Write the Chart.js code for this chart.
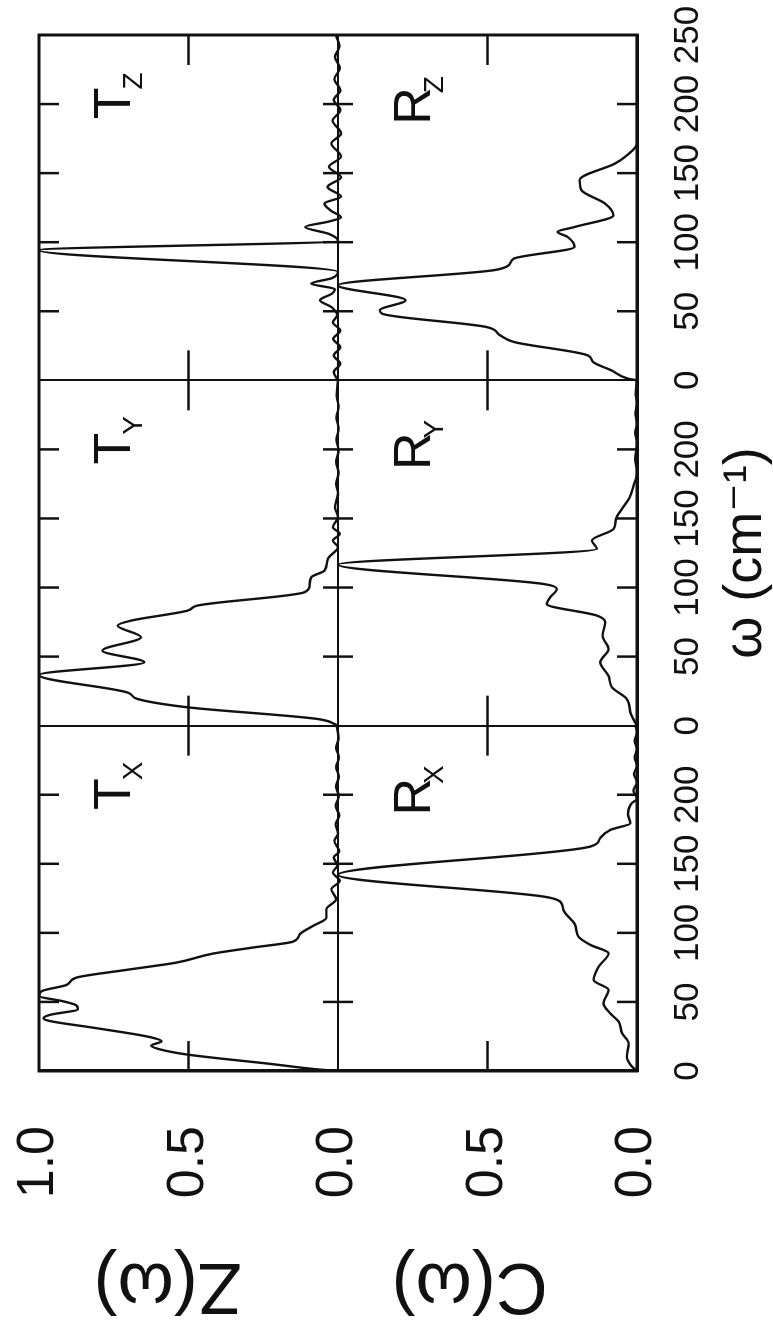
<!DOCTYPE html>
<html>
<head>
<meta charset="utf-8">
<title>Z(ω) and C(ω) spectra</title>
<script src="https://cdn.jsdelivr.net/npm/chart.js@4.4.0/dist/chart.umd.min.js"></script>
<style>
  html, body { margin: 0; padding: 0; background: #fff; overflow: hidden; }
  #page { position: relative; width: 773px; height: 1331px; overflow: hidden; background: #fff; }
  /* the figure is drawn landscape and turned a quarter turn, like the scanned page */
  #wrap { position: absolute; left: 0; top: 0; width: 1331px; height: 773px;
          transform-origin: 0 0; transform: translateY(1331px) rotate(-90deg); }
</style>
</head>
<body>
<div id="page">
  <div id="wrap"><canvas id="spectra" width="1331" height="773"></canvas></div>
</div>
<script>
// frequencies (cm-1) and normalised spectra, one panel per axis
const txW = [0, 1.2, 5, 12, 15.7, 18.4, 21.5, 24.6, 31.4, 36.2, 38.2, 40.6, 44.7, 47.5, 50.5, 54.3, 57.9, 62.3, 67.6, 73.2, 78.5, 85, 89.4, 93.7, 99, 105, 111, 117, 124.4, 131.6, 137.7, 143.7, 149, 154.6, 159, 166.6, 172, 178.7, 185, 192, 199, 206, 213, 220, 227, 234, 241, 250];
const txZ = [0, 0.07, 0.22, 0.507, 0.596, 0.625, 0.59, 0.63, 0.82, 0.964, 0.985, 0.964, 0.87, 0.875, 0.92, 1.0, 0.99, 0.908, 0.875, 0.708, 0.54, 0.418, 0.284, 0.15, 0.128, 0.084, 0.039, 0.039, 0.006, 0.022, -0.006, 0.017, 0.002, 0.014, -0.004, 0.012, 0, 0.008, -0.004, 0.008, -0.003, 0.007, -0.003, 0.006, -0.003, 0.006, -0.002, 0.004];

const tyW = [0, 4.8, 13.3, 19.3, 24, 36.7, 45.9, 54.3, 64, 72.5, 76, 83.3, 87, 96.6, 101.4, 107.5, 112.3, 120.8, 129.2, 134, 138.9, 143.7, 151, 158, 168, 175, 183, 191, 199, 207, 215, 223, 231, 239, 250];
const tyZ = [0, 0.067, 0.503, 0.67, 0.704, 1.0, 0.648, 0.788, 0.659, 0.737, 0.693, 0.503, 0.469, 0.112, 0.095, 0.089, 0.045, 0.034, 0, 0.017, -0.006, 0.017, 0, 0.01, 0, 0.006, -0.002, 0.006, -0.002, 0.005, -0.002, 0.005, -0.002, 0.004, 0];

const tzW = [0, 6, 12, 18, 24, 30, 36, 42, 47, 53, 58, 62.8, 66, 70, 74, 78.5, 94.2, 101, 106, 111, 115, 118, 123, 128, 133, 140, 147, 154.6, 162, 171.5, 178.7, 188, 195.6, 203, 210, 218, 226, 234, 242, 250];
const tzZ = [0, 0.014, -0.008, 0.014, -0.008, 0.016, -0.008, 0.017, 0.003, 0.022, 0.06, 0.02, 0.01, 0.09, 0.02, 0, 1.0, 0, 0.03, 0.11, 0.03, -0.01, 0.025, 0.045, -0.01, 0.035, -0.01, 0.03, -0.01, 0.022, -0.01, 0.018, -0.008, 0.014, -0.008, 0.012, -0.006, 0.01, -0.005, 0.008];

const rxW = [0, 4, 10.4, 20, 27.3, 35.7, 41.8, 49, 58.7, 65.9, 75.6, 85.2, 91.3, 97.3, 105.8, 116.6, 122.7, 126.3, 142, 162.5, 168.6, 174.6, 179.4, 186, 194, 197, 203, 209, 215, 221, 227, 233, 239, 245, 250];
const rxC = [0, 0.02, 0.034, 0.028, 0.05, 0.061, 0.09, 0.112, 0.095, 0.145, 0.128, 0.095, 0.156, 0.196, 0.207, 0.246, 0.257, 0.313, 1.0, 0.156, 0.123, 0.089, 0.022, 0.03, 0.017, 0, 0.012, 0, 0.01, 0, 0.008, 0, 0.008, 0, 0.005];

const ryW = [0, 8, 19.3, 27.8, 36, 45.9, 55.5, 65, 74.9, 79.7, 88.1, 93, 99, 102.6, 116.6, 128, 134, 142.5, 150, 157, 165, 174, 183.5, 193, 205, 212, 219, 226, 233, 240, 250];
const ryC = [0, 0.02, 0.034, 0.084, 0.095, 0.123, 0.095, 0.115, 0.106, 0.134, 0.302, 0.29, 0.268, 0.313, 1.0, 0.134, 0.151, 0.078, 0.07, 0.05, 0.025, 0.011, 0, 0.006, 0, 0.006, 0, 0.005, 0, 0.004, 0];

const rzW = [0, 1.2, 7.2, 13.3, 18, 27.8, 32.6, 38.6, 48.3, 50.7, 58, 68.8, 79.7, 83.3, 88.1, 96.6, 103.8, 107.5, 111, 119.5, 128, 137.7, 145, 157, 161.8, 171.5, 180, 250];
const rzC = [0, 0.03, 0.085, 0.147, 0.164, 0.412, 0.458, 0.503, 0.853, 0.86, 0.774, 1.0, 0.48, 0.429, 0.412, 0.209, 0.232, 0.266, 0.209, 0.079, 0.107, 0.186, 0.192, 0.073, 0.04, 0, 0, 0];

const axisNames = ['X', 'Y', 'Z'];
const panelSpan = 250;           // each panel runs 0..250 cm-1
const omegaTicks = [0, 50, 100, 150, 200, 250];
const valueTicks = ['0.0', '0.5', '1.0'];

const INK = '#111';
const SANS = "'Liberation Sans', Arimo, 'DejaVu Sans', sans-serif";
Chart.defaults.font.family = SANS;
Chart.defaults.color = INK;

// Z(w) sits on the upper half of a 0..2 value axis, C(w) on the lower half
const toPoints = (w, v, panel, lift) => w.map((x, i) => ({ x: x + panel * panelSpan, y: v[i] + lift }));

const curve = (label, data) => ({
  label, data,
  borderColor: INK, borderWidth: 2.4, pointRadius: 0, fill: false,
  cubicInterpolationMode: 'monotone'
});

const frameAndMarks = {
  id: 'frameAndMarks',
  afterDatasetsDraw(chart) {
    const { ctx, chartArea: a, scales: { x, y } } = chart;
    const mid = y.getPixelForValue(1);
    const seg = (x1, y1, x2, y2) => { ctx.beginPath(); ctx.moveTo(x1, y1); ctx.lineTo(x2, y2); ctx.stroke(); };
    ctx.save();
    ctx.strokeStyle = INK;
    ctx.lineWidth = 2.5;
    // inward omega ticks on the frame and across the middle line
    x.ticks.forEach(t => {
      if (t.value % panelSpan === 0) return;
      const px = x.getPixelForValue(t.value);
      seg(px, a.top, px, a.top + 20);
      seg(px, mid - 15, px, mid + 15);
      seg(px, a.bottom - 20, px, a.bottom);
    });
    // 0.5 ticks on every panel edge
    y.ticks.forEach(t => {
      if (t.value % 1 === 0) return;
      const py = y.getPixelForValue(t.value);
      x.ticks.forEach(s => {
        if (s.value % panelSpan !== 0) return;
        const px = x.getPixelForValue(s.value);
        seg(Math.max(a.left, px - 30), py, Math.min(a.right, px + 30), py);
      });
    });
    ctx.lineWidth = 3;
    ctx.strokeRect(a.left, a.top, a.right - a.left, a.bottom - a.top);

    // panel names T_X ... R_Z
    ctx.fillStyle = INK;
    ctx.textBaseline = 'alphabetic';
    ctx.textAlign = 'left';
    axisNames.forEach((n, p) => {
      let px = x.getPixelForValue(p * panelSpan + 189);
      let py = y.getPixelForValue(1.696);
      ctx.font = '52px ' + SANS;
      ctx.fillText('T', px, py);
      let w = ctx.measureText('T').width;
      ctx.font = '28px ' + SANS;
      ctx.fillText(n, px + w - 2, py + 12);

      px = x.getPixelForValue(p * panelSpan + 185);
      py = y.getPixelForValue(0.692);
      ctx.font = '52px ' + SANS;
      ctx.fillText('R', px, py);
      w = ctx.measureText('R').width;
      ctx.font = '28px ' + SANS;
      ctx.fillText(n, px + w - 6, py + 13);
    });

    // value-axis names, one per half
    ctx.font = '72px ' + SANS;
    ctx.textAlign = 'center';
    ctx.textBaseline = 'middle';
    [['Z(ω)', 1.57], ['C(ω)', 0.56]].forEach(([txt, v]) => {
      ctx.save();
      ctx.translate(47, y.getPixelForValue(v));
      ctx.rotate(-Math.PI / 2);
      ctx.fillText(txt, 0, 0);
      ctx.restore();
    });
    ctx.restore();
  }
};

new Chart(document.getElementById('spectra'), {
  type: 'line',
  data: {
    datasets: [
      curve('T_X', toPoints(txW, txZ, 0, 1)),
      curve('T_Y', toPoints(tyW, tyZ, 1, 1)),
      curve('T_Z', toPoints(tzW, tzZ, 2, 1)),
      curve('R_X', toPoints(rxW, rxC, 0, 0)),
      curve('R_Y', toPoints(ryW, ryC, 1, 0)),
      curve('R_Z', toPoints(rzW, rzC, 2, 0))
    ]
  },
  options: {
    responsive: false,
    animation: false,
    layout: { padding: 0 },
    plugins: { legend: { display: false }, tooltip: { enabled: false } },
    scales: {
      x: {
        type: 'linear', min: 0, max: 3 * panelSpan,
        ticks: {
          stepSize: 50, autoSkip: false, maxRotation: 0, minRotation: 0, padding: 30,
          font: { size: 35 }, color: INK,
          callback: v => v === 3 * panelSpan ? String(omegaTicks[5]) : String(v % panelSpan)
        },
        grid: {
          drawTicks: false, lineWidth: 2,
          color: c => (c.tick && c.tick.value % panelSpan === 0) ? INK : 'rgba(0,0,0,0)'
        },
        border: { color: INK, width: 3 },
        title: {
          display: true, text: 'ω (cm⁻¹)', color: INK,
          font: { size: 54, lineHeight: 1 }, padding: { top: 0, bottom: 0 }
        },
        // fixed band below the frame; right margin of the frame set here
        afterFit: s => { s.height = 136; s.paddingLeft = 0; s.paddingRight = 35; }
      },
      y: {
        min: 0, max: 2,
        ticks: {
          stepSize: 0.5, padding: 55, font: { size: 52 }, color: INK,
          callback: v => v > 1 ? valueTicks[Math.round((v - 1) * 2)] : valueTicks[Math.round((v % 1) * 2)]
        },
        grid: {
          drawTicks: false, lineWidth: 2,
          color: c => (c.tick && c.tick.value === 1) ? INK : 'rgba(0,0,0,0)'
        },
        border: { color: INK, width: 3 },
        // fixed band left of the frame; top margin of the frame set here
        afterFit: s => { s.width = 260; s.paddingTop = 39; s.paddingBottom = 0; }
      }
    }
  },
  plugins: [frameAndMarks]
});
</script>
</body>
</html>
